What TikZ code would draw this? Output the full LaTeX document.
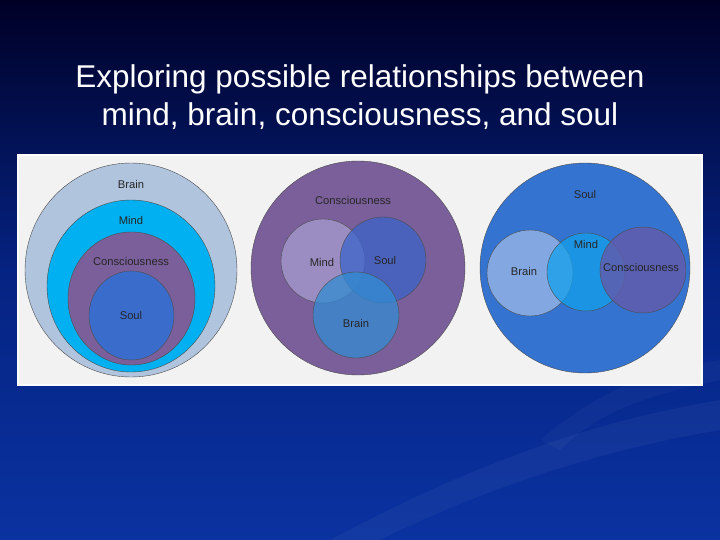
\documentclass[tikz,border=0pt]{standalone}
\usepackage{fontspec}
\setmainfont{Liberation Sans}
\begin{document}
\begin{tikzpicture}[x=1pt,y=-1pt,
  circ/.style={draw=black!70,line width=0.4pt},
  lbl/.style={font=\fontsize{11.2}{12}\selectfont,text=black!85},
  title/.style={font=\fontsize{31.5}{38}\selectfont,text=white,align=center}]
\useasboundingbox (0,0) rectangle (720,540);
\shade[top color=black!85!blue, bottom color={rgb,255:red,10;green,50;blue,160}, middle color={rgb,255:red,5;green,35;blue,130}] (0,0) rectangle (720,540);
\fill[white,opacity=0.04] (330,540) .. controls (480,460) and (600,420) .. (720,400) -- (720,430) .. controls (600,450) and (480,490) .. (380,540) -- cycle;
\fill[white,opacity=0.03] (540,440) .. controls (600,390) and (650,370) .. (720,360) -- (720,380) .. controls (650,395) and (600,410) .. (560,450) -- cycle;
\node[title] (t) at (360,97) {Exploring possible relationships between\\mind, brain, consciousness, and soul};
\node[fill=black!5,draw=white,line width=1.5pt,minimum width=684,minimum height=230,inner sep=0] (panel) at (360,270) {};
% left
\draw[circ,fill={rgb,255:red,176;green,196;blue,222}] (131,270) ellipse (106 and 107);
\draw[circ,fill={rgb,255:red,0;green,176;blue,240}] (131,286) ellipse (84 and 86);
\draw[circ,fill={rgb,255:red,122;green,95;blue,154}] (131.5,298.5) ellipse (63.5 and 66.5);
\draw[circ,fill={rgb,255:red,58;green,108;blue,204}] (131.5,315.5) ellipse (42.5 and 44.5);
\node[lbl] (l1) at (131,184) {Brain};
\node[lbl] (l2) at (131,220) {Mind};
\node[lbl] (l3) at (131,261) {Consciousness};
\node[lbl] (l4) at (131,315) {Soul};
% middle
\draw[circ,fill={rgb,255:red,122;green,95;blue,154}] (358,268) ellipse (107 and 107);
\draw[circ,fill={rgb,255:red,170;green,160;blue,210},fill opacity=0.7] (323,261) circle (42);
\draw[circ,fill={rgb,255:red,60;green,100;blue,200},fill opacity=0.75] (383,260) circle (43);
\draw[circ,fill={rgb,255:red,50;green,140;blue,210},fill opacity=0.75] (356,315) circle (43);
\node[lbl] (m1) at (353,200) {Consciousness};
\node[lbl] (m2) at (322,262) {Mind};
\node[lbl] (m3) at (385,260) {Soul};
\node[lbl] (m4) at (356,323) {Brain};
% right
\draw[circ,fill={rgb,255:red,52;green,116;blue,208}] (585,268) ellipse (105 and 105);
\draw[circ,fill={rgb,255:red,150;green,180;blue,230},fill opacity=0.8] (530,273) circle (43);
\draw[circ,fill={rgb,255:red,20;green,160;blue,235},fill opacity=0.75] (586,272) circle (39);
\draw[circ,fill={rgb,255:red,100;green,90;blue,170},fill opacity=0.8] (643,270) circle (43);
\node[lbl] (r1) at (585,194) {Soul};
\node[lbl] (r2) at (586,244) {Mind};
\node[lbl] (r3) at (524,271) {Brain};
\node[lbl] (r4) at (641,267) {Consciousness};
\end{tikzpicture}
\end{document}
